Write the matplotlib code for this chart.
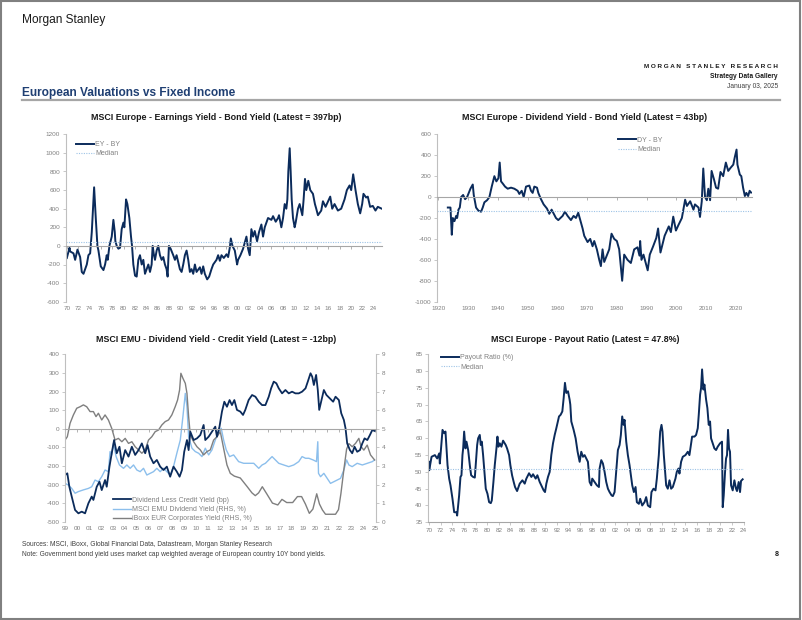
import numpy as np
import matplotlib
matplotlib.use('Agg')
import matplotlib.pyplot as plt
from matplotlib.patches import Rectangle
from matplotlib.lines import Line2D

plt.rcParams['font.family'] = ['Liberation Sans', 'DejaVu Sans']

NAVY = '#0b2b5b'
LIGHT = '#8cbfec'
GREY = '#7f7f7f'
MED = '#9dc3e6'
AXIS = '#bfbfbf'
TXT = '#808080'

# --- MSCI Europe earnings yield less bond yield (bp)
ey_years = [1970.0, 1970.47, 1970.59, 1971.17, 1971.46, 1971.87, 1972.34, 1972.63, 1972.93, 1973.51,
            1973.80, 1974.10, 1974.39, 1974.80, 1975.09, 1975.38, 1975.56, 1975.97, 1976.44, 1976.73,
            1977.02, 1977.20, 1977.49, 1977.90, 1978.19, 1978.43, 1978.54, 1978.78, 1979.07, 1979.36,
            1979.65, 1979.95, 1980.12, 1980.42, 1980.65, 1981.00, 1981.29, 1981.47, 1981.70, 1982.00,
            1982.29, 1982.58, 1982.87, 1983.17, 1983.46, 1983.75, 1984.04, 1984.34, 1984.63, 1984.92,
            1985.10, 1985.33, 1985.51, 1985.80, 1986.09, 1986.38, 1986.68, 1986.97, 1987.26, 1987.55,
            1987.73, 1987.96, 1988.26, 1988.72, 1989.02, 1989.31, 1989.89, 1990.19, 1990.48, 1990.77,
            1991.07, 1991.36, 1991.65, 1991.94, 1992.24, 1992.53, 1992.82, 1993.41, 1993.70, 1993.99,
            1994.28, 1994.69, 1995.04, 1995.45, 1995.75, 1996.33, 1996.62, 1996.92, 1997.21, 1997.62,
            1998.09, 1998.38, 1998.67, 1998.85, 1999.14, 1999.55, 1999.96, 2000.13, 2000.54, 2001.01,
            2001.60, 2001.89, 2002.18, 2002.47, 2002.77, 2003.06, 2003.47, 2003.82, 2004.23, 2004.52,
            2004.82, 2005.40, 2005.99, 2006.28, 2006.75, 2007.16, 2007.33, 2007.74, 2008.04, 2008.33,
            2008.62, 2008.80, 2008.97, 2009.21, 2009.38, 2009.56, 2009.79, 2010.08, 2010.26, 2010.67,
            2010.96, 2011.43, 2011.66, 2011.90, 2012.13, 2012.48, 2012.83, 2013.30, 2013.65, 2013.88,
            2014.18, 2014.76, 2015.06, 2015.52, 2016.34, 2016.69, 2017.10, 2017.69, 2018.27, 2018.86,
            2019.27, 2019.74, 2020.03, 2020.38, 2020.79, 2021.20, 2021.61, 2021.96, 2022.19, 2022.66,
            2022.95, 2023.36, 2023.83, 2024.30, 2024.71, 2025.41]
ey_values = [-130, -20, -60, -80, -150, -40, -120, -280, -300, -200,
             -100, -80, 150, 630, 300, 0, -50, -220, -260, -200,
             -100, -150, 0, 100, 280, 150, 50, 0, -30, -20,
             180, 250, 200, 500, 450, 300, 100, 0, -200, -320,
             -330, -150, -100, -200, -150, -300, -250, -200, -280, -200,
             0, -100, -150, -50, 0, -100, -150, -120, -200, -250,
             -330, 0, -30, -100, -150, -100, -250, -280, -200, -100,
             -50, -150, -280, -250, -300, -200, -280, -230, -300, -220,
             -300, -360, -330, -250, -200, -150, -100, -160, -100, -130,
             -90, -120, -20, 80, 0, -50, -200, -150, -100, -30,
             100, -30, -100, 180, 100, 160, 50, 150, 230, 100,
             200, 300, 280, 320, 260, 300, 330, 200, 300, 450,
             400, 500, 800, 1050, 800, 500, 300, 200, 250, 400,
             450, 330, 500, 720, 600, 700, 600, 560, 450, 400,
             330, 380, 480, 420, 530, 400, 450, 380, 400, 500,
             600, 650, 600, 770, 600, 450, 350, 450, 560, 520,
             530, 420, 430, 380, 420, 400]
ey_median = 40

# --- MSCI Europe dividend yield less bond yield (bp)
dy_years = [1923.14, 1924.03, 1924.48, 1924.82, 1925.38, 1925.94, 1926.27, 1926.72, 1927.17, 1927.61,
            1928.29, 1928.96, 1929.63, 1930.75, 1931.53, 1931.87, 1932.65, 1933.44, 1934.33, 1934.89,
            1935.45, 1936.35, 1937.13, 1937.92, 1938.81, 1939.48, 1940.16, 1940.60, 1941.05, 1941.61,
            1942.40, 1943.29, 1944.41, 1945.53, 1946.65, 1947.21, 1948.00, 1948.67, 1949.45, 1950.57,
            1951.13, 1951.69, 1952.25, 1953.15, 1953.59, 1954.49, 1955.39, 1956.51, 1957.29, 1958.07,
            1959.53, 1960.31, 1961.77, 1962.55, 1963.45, 1964.57, 1965.46, 1966.25, 1967.03, 1967.70,
            1968.49, 1969.05, 1970.17, 1971.06, 1971.85, 1972.41, 1973.30, 1974.09, 1974.65, 1975.21,
            1975.77, 1976.33, 1977.45, 1978.23, 1979.13, 1980.02, 1980.81, 1981.81, 1982.49, 1983.61,
            1984.73, 1985.85, 1986.97, 1987.64, 1987.86, 1988.31, 1988.98, 1990.40, 1991.10, 1992.20,
            1993.30, 1993.90, 1994.70, 1996.10, 1997.50, 1998.20, 1999.00, 1999.90, 2000.70, 2001.90,
            2003.00, 2003.60, 2004.70, 2005.80, 2006.30, 2007.50, 2008.00, 2008.60, 2009.10, 2009.70,
            2010.30, 2010.80, 2011.40, 2011.90, 2012.70, 2013.40, 2014.10, 2014.90, 2015.80, 2016.70,
            2017.50, 2018.30, 2019.20, 2019.70, 2020.30, 2020.60, 2021.40, 2021.90, 2022.50, 2023.10,
            2023.60, 2024.20, 2024.70, 2025.20]
dy_values = [-100, -100, -360, -200, -230, -180, -200, -120, -100, 0,
             20, -20, 0, 80, 120, 20, -100, -130, -140, -100,
             -50, -30, 0, 100, 200, 150, 180, 330, 150, 130,
             100, 80, 90, 80, 60, 30, 60, 0, 100, 110,
             60, 40, 100, 90, 40, -20, -70, -110, -160, -120,
             -200, -220, -180, -140, -180, -220, -180, -200, -150, -220,
             -300, -370, -430, -400, -470, -420, -500, -600, -660, -500,
             -620, -580, -500, -350, -400, -420, -500, -800, -550, -600,
             -630, -500, -480, -560, -420, -600, -550, -700, -550, -473,
             -390, -300, -530, -370, -280, -335, -187, -320, -270, -200,
             -25, -85, -40, -120, -70, -100, -190, -40, 273, 0,
             -30, 80, -30, 250, 170, 90, 80, 240, 200, 330,
             250, 280, 310, 380, 454, 310, 215, 200, 90, 10,
             40, 10, 60, 43]
dy_median = -135

# --- MSCI EMU dividend yield less credit yield (bp), and RHS yields (%)
dc_years = [1998.98, 1999.17, 1999.34, 1999.54, 1999.82, 2000.10, 2000.38, 2000.66, 2000.94, 2001.22,
            2001.36, 2001.64, 2001.87, 2002.06, 2002.34, 2002.48, 2002.71, 2002.90, 2003.10, 2003.32,
            2003.55, 2003.75, 2004.03, 2004.31, 2004.59, 2004.87, 2005.15, 2005.43, 2005.71, 2005.91,
            2006.13, 2006.41, 2006.69, 2006.97, 2007.25, 2007.53, 2007.81, 2008.09, 2008.37, 2008.60,
            2008.80, 2008.99, 2009.22, 2009.36, 2009.50, 2009.78, 2010.06, 2010.34, 2010.62, 2010.76,
            2011.04, 2011.32, 2011.60, 2011.74, 2011.95, 2012.16, 2012.36, 2012.58, 2012.80, 2013.00,
            2013.20, 2013.42, 2013.70, 2013.93, 2014.12, 2014.40, 2014.69, 2014.97, 2015.25, 2015.53,
            2015.81, 2016.09, 2016.29, 2016.51, 2016.73, 2016.93, 2017.21, 2017.49, 2017.77, 2018.05,
            2018.33, 2018.61, 2018.89, 2019.18, 2019.37, 2019.60, 2019.74, 2019.88, 2020.07, 2020.21,
            2020.33, 2020.49, 2020.72, 2020.94, 2021.22, 2021.50, 2021.70, 2021.98, 2022.18, 2022.40,
            2022.54, 2022.68, 2022.91, 2023.10, 2023.30, 2023.52, 2023.75, 2023.95, 2024.14, 2024.37,
            2024.59, 2024.79, 2024.98]
dc_values = [-249, -240, -312, -365, -437, -455, -446, -455, -401, -365,
             -383, -312, -285, -330, -276, -312, -204, -132, -61, -132,
             -97, -186, -115, -150, -97, -141, -115, -79, -132, -88,
             -150, -186, -168, -204, -222, -204, -258, -204, -231, -258,
             -222, -124, -61, -115, -16, -61, -52, -34, 20, -61,
             -43, -16, 11, -43, 10, 92, 145, 118, 154, 127,
             154, 101, 92, 74, 101, 154, 181, 172, 145, 127,
             127, 172, 217, 253, 244, 217, 190, 208, 190, 199,
             190, 190, 199, 217, 253, 298, 280, 235, 289, 208,
             101, 145, 208, 181, 163, 145, 172, 154, 83, 47,
             2, -79, -115, -132, -97, -124, -115, -79, -52, -61,
             -34, -7, -12]

emu_dy_years = [1998.98, 1999.26, 1999.54, 1999.82, 2000.10, 2000.52, 2000.94, 2001.22, 2001.50, 2001.78,
                2002.06, 2002.34, 2002.62, 2002.76, 2002.90, 2003.04, 2003.27, 2003.55, 2003.89, 2004.17,
                2004.45, 2004.73, 2005.01, 2005.29, 2005.57, 2005.85, 2006.13, 2006.41, 2006.69, 2006.97,
                2007.25, 2007.53, 2007.81, 2008.09, 2008.37, 2008.66, 2008.88, 2009.08, 2009.22, 2009.36,
                2009.64, 2009.92, 2010.20, 2010.48, 2010.76, 2011.04, 2011.32, 2011.60, 2011.88, 2012.10,
                2012.30, 2012.52, 2012.80, 2013.14, 2013.56, 2013.98, 2014.40, 2014.83, 2015.25, 2015.53,
                2015.81, 2016.09, 2016.37, 2016.65, 2016.93, 2017.35, 2017.77, 2018.19, 2018.61, 2018.89,
                2019.18, 2019.46, 2019.82, 2020.10, 2020.21, 2020.27, 2020.44, 2020.72, 2021.00, 2021.28,
                2021.56, 2021.84, 2022.12, 2022.40, 2022.63, 2022.82, 2023.10, 2023.52, 2023.95, 2024.37,
                2024.79, 2024.98]
emu_dy_values = [2.06, 1.97, 1.79, 1.53, 1.62, 1.71, 1.79, 1.88, 2.24, 2.15,
                 2.42, 2.78, 2.69, 3.77, 3.59, 4.21, 3.50, 3.05, 2.87, 3.05,
                 2.87, 3.05, 2.78, 2.69, 2.87, 2.51, 2.60, 2.69, 2.87, 2.69,
                 2.87, 2.69, 2.51, 2.96, 3.68, 4.39, 5.65, 6.90, 6.18, 4.57,
                 3.95, 3.77, 3.68, 3.50, 3.95, 3.59, 3.86, 4.39, 4.84, 5.02,
                 4.39, 3.86, 3.50, 3.59, 3.23, 3.14, 3.14, 3.14, 2.87, 3.05,
                 3.14, 3.32, 3.50, 3.32, 3.14, 3.05, 2.96, 3.05, 3.23, 3.50,
                 3.41, 3.41, 3.32, 3.23, 4.30, 2.60, 2.42, 2.60, 2.33, 2.06,
                 2.15, 2.24, 2.33, 2.78, 3.32, 3.05, 2.96, 3.14, 3.05, 3.14,
                 3.23, 3.32]

iboxx_years = [1998.98, 1999.17, 1999.40, 1999.68, 1999.96, 2000.24, 2000.52, 2000.80, 2001.08, 2001.36,
               2001.58, 2001.78, 2002.06, 2002.34, 2002.62, 2002.90, 2003.18, 2003.46, 2003.75, 2004.03,
               2004.31, 2004.59, 2004.87, 2005.15, 2005.43, 2005.71, 2005.99, 2006.27, 2006.55, 2006.83,
               2007.11, 2007.39, 2007.67, 2007.95, 2008.23, 2008.43, 2008.60, 2008.71, 2008.88, 2009.08,
               2009.22, 2009.36, 2009.50, 2009.78, 2010.06, 2010.34, 2010.62, 2010.90, 2011.18, 2011.46,
               2011.74, 2012.02, 2012.30, 2012.58, 2012.86, 2013.20, 2013.70, 2014.26, 2014.68, 2014.96,
               2015.24, 2015.55, 2015.94, 2016.40, 2016.85, 2017.20, 2017.60, 2018.10, 2018.50, 2018.85,
               2019.17, 2019.50, 2019.80, 2020.12, 2020.35, 2020.60, 2020.86, 2021.30, 2021.70, 2021.95,
               2022.15, 2022.40, 2022.63, 2022.82, 2023.10, 2023.38, 2023.66, 2023.85, 2024.08, 2024.36,
               2024.64, 2024.98]
iboxx_values = [4.39, 4.57, 5.29, 5.74, 6.10, 6.18, 6.28, 6.18, 5.92, 5.92,
                5.65, 5.83, 5.47, 5.74, 5.47, 5.02, 4.39, 4.48, 4.30, 4.48,
                4.21, 4.30, 4.03, 3.86, 3.68, 3.86, 4.39, 4.57, 4.84, 4.93,
                5.20, 5.38, 5.47, 5.74, 6.18, 6.54, 7.08, 7.98, 7.71, 7.44,
                6.90, 5.65, 4.66, 4.30, 4.03, 3.86, 3.59, 3.77, 3.86, 4.39,
                4.57, 4.84, 3.94, 3.05, 2.60, 2.45, 2.35, 1.90, 1.55, 1.40,
                1.55, 1.88, 1.48, 1.00, 0.90, 1.20, 1.03, 1.03, 1.35, 1.35,
                0.95, 0.45, 0.68, 1.50, 0.95, 0.63, 0.40, 0.40, 0.40, 0.65,
                1.50, 2.80, 3.90, 4.20, 4.03, 4.21, 4.48, 4.03, 3.85, 4.12,
                3.59, 3.32]

# --- MSCI Europe payout ratio (%)
po_years = [1970.00, 1970.06, 1970.46, 1971.03, 1971.43, 1971.77, 1971.88, 1972.34, 1972.63, 1972.85,
            1973.20, 1973.48, 1973.71, 1974.05, 1974.34, 1974.74, 1974.85, 1975.19, 1975.42, 1975.59,
            1975.76, 1975.88, 1976.05, 1976.28, 1976.45, 1976.74, 1977.02, 1977.25, 1977.59, 1977.88,
            1978.16, 1978.28, 1978.45, 1978.73, 1978.90, 1979.08, 1979.30, 1979.53, 1979.76, 1980.05,
            1980.33, 1980.62, 1980.79, 1981.07, 1981.30, 1981.59, 1981.76, 1981.93, 1982.16, 1982.44,
            1982.73, 1983.18, 1983.41, 1983.76, 1983.98, 1984.27, 1984.55, 1984.78, 1985.13, 1985.58,
            1986.04, 1986.44, 1986.72, 1987.18, 1987.58, 1987.87, 1988.32, 1988.61, 1989.01, 1989.29,
            1989.69, 1989.92, 1990.15, 1990.43, 1990.72, 1991.00, 1991.29, 1991.58, 1991.86, 1992.32,
            1992.60, 1992.89, 1993.12, 1993.34, 1993.57, 1993.86, 1994.14, 1994.26, 1994.43, 1994.83,
            1995.17, 1995.51, 1995.86, 1996.14, 1996.43, 1996.71, 1997.00, 1997.28, 1997.57, 1997.85,
            1998.02, 1998.42, 1998.82, 1999.17, 1999.28, 1999.57, 1999.85, 2000.14, 2000.42, 2000.71,
            2000.99, 2001.34, 2001.56, 2001.85, 2002.13, 2002.42, 2002.71, 2002.93, 2003.16, 2003.39,
            2003.56, 2003.85, 2004.13, 2004.42, 2004.65, 2004.88, 2005.16, 2005.45, 2005.67, 2006.02,
            2006.24, 2006.59, 2006.99, 2007.27, 2007.56, 2007.96, 2008.18, 2008.53, 2008.87, 2009.10,
            2009.44, 2009.67, 2009.90, 2010.07, 2010.30, 2010.53, 2010.70, 2010.98, 2011.27, 2011.55,
            2011.84, 2012.29, 2012.52, 2012.81, 2012.98, 2013.26, 2013.55, 2014.01, 2014.41, 2014.69,
            2015.15, 2015.55, 2015.83, 2016.12, 2016.29, 2016.52, 2016.69, 2016.86, 2017.09, 2017.26,
            2017.55, 2017.77, 2018.00, 2018.23, 2018.40, 2018.69, 2018.97, 2019.26, 2019.54, 2019.94,
            2020.28, 2020.40, 2020.57, 2020.80, 2020.97, 2021.14, 2021.31, 2021.48, 2021.65, 2021.83,
            2022.11, 2022.40, 2022.68, 2022.85, 2023.14, 2023.37, 2023.54, 2023.82]
po_values = [53, 50.5, 54.5, 55, 54, 55.5, 52.5, 62.5, 61.5, 62,
             52, 48, 46, 42, 38, 38, 37, 43, 48.5, 49,
             55, 57, 62, 57, 59, 56.5, 52, 49, 48.5, 48.3,
             55, 58, 60, 61, 58, 59, 55, 50, 45, 43.5,
             41, 40.7, 41.5, 47, 52, 57, 60.5, 57.5, 58.5, 57.5,
             59.3, 58, 57, 55, 52, 49, 47, 45.5, 44.3, 46.5,
             47.5, 46.5, 48, 49.6, 48.5, 49.3, 48, 49, 47, 46,
             44.5, 44, 46.5, 48.5, 50, 55, 58.5, 61, 63, 66.5,
             67, 68, 72, 76.5, 73.5, 74, 71.5, 70, 65, 62.5,
             60, 56, 53, 56, 54.5, 55, 54, 53, 47, 46,
             48, 47, 46, 45.5, 51, 53.5, 52.5, 50, 47, 45,
             44, 43, 42.8, 44, 50, 56.5, 58, 61, 66.5, 64,
             65.5, 59, 55, 52, 49, 46, 44, 45.5, 41, 40.5,
             42, 40, 41, 42.5, 40, 39.5, 44, 45, 44.5, 48,
             55, 62, 64, 62, 55, 50, 46, 45, 47.5, 45,
             45.5, 48, 50, 51, 49.5, 53, 54.5, 55, 56, 55,
             60.5, 60.5, 61, 63, 67, 73, 75, 80.5, 74.5, 76,
             71.5, 69, 64, 65, 60, 58.5, 57, 56.5, 57.5, 58.5,
             59, 39.5, 43, 50, 54, 55, 62.5, 57, 56, 46,
             44.5, 47.5, 45, 44.3, 47, 44, 47.3, 47.8]
po_median = 51

W, H = 802, 620
fig = plt.figure(figsize=(W / 100, H / 100), dpi=100)


def box(x0, x1, ytop, ybot):
    return [x0 / W, 1 - ybot / H, (x1 - x0) / W, (ybot - ytop) / H]


def style(ax, yticks, xticks, xlabels, zero=None):
    for s in ['top', 'right']:
        ax.spines[s].set_visible(False)
    ax.spines['left'].set_color(AXIS)
    ax.spines['left'].set_linewidth(0.8)
    ax.spines['bottom'].set_color('#a6a6a6')
    ax.spines['bottom'].set_linewidth(0.8)
    ax.set_yticks(yticks)
    ax.set_yticklabels([f'{t:g}' for t in yticks])
    ax.tick_params(axis='y', length=2, width=0.6, color=AXIS, labelsize=4.6, labelcolor=TXT, pad=2)
    ax.set_xticks(xticks)
    if zero is None:
        ax.set_xticklabels(xlabels)
        ax.tick_params(axis='x', length=2, width=0.6, color=AXIS, labelsize=4.6, labelcolor=TXT, pad=2)
    else:
        ax.spines['bottom'].set_position(('data', zero))
        ax.tick_params(axis='x', length=2, width=0.6, color='#a6a6a6', labelbottom=False)
        sec = ax.secondary_xaxis('bottom')
        sec.set_xticks(xticks, xlabels)
        sec.spines['bottom'].set_visible(False)
        sec.tick_params(length=0, labelsize=4.6, labelcolor=TXT, pad=3)


def legend(ax, handles, labels, anchor):
    ax.legend(handles, labels, loc='upper left', bbox_to_anchor=anchor, frameon=False,
              fontsize=5, labelcolor=TXT, handlelength=2.6, handletextpad=0.15,
              labelspacing=0.35, borderaxespad=0, borderpad=0)


med_handle = Line2D([], [], color=MED, lw=0.8, ls=(0, (1, 1.2)))

# chart 1
ax1 = fig.add_axes(box(65.7, 382, 134.3, 301.7))
l1, = ax1.plot(ey_years, ey_values, color=NAVY, lw=1.4)
ax1.axhline(ey_median, color=MED, lw=0.8, ls=(0, (1, 1.2)))
ax1.set_xlim(1969.8, 2025.45)
ax1.set_ylim(-600, 1200)
yrs = list(range(1970, 2025, 2))
style(ax1, list(range(-600, 1201, 200)), yrs, [f'{y % 100:02d}' for y in yrs], zero=0)
legend(ax1, [l1, med_handle], ['EY - BY', 'Median'], (0.033, 0.96))

# chart 2
ax2 = fig.add_axes(box(437, 752, 134.3, 301.7))
l2, = ax2.plot(dy_years, dy_values, color=NAVY, lw=1.4)
ax2.axhline(dy_median, color=MED, lw=0.8, ls=(0, (1, 1.2)))
ax2.set_xlim(1919.5, 2025.5)
ax2.set_ylim(-1000, 600)
decs = list(range(1920, 2021, 10))
style(ax2, list(range(-1000, 601, 200)), decs, [str(d) for d in decs], zero=0)
legend(ax2, [l2, med_handle], ['DY - BY', 'Median'], (0.575, 0.985))

# chart 3
ax3 = fig.add_axes(box(65.3, 376, 354.3, 521.7))
ax3r = ax3.twinx()
ax3.set_zorder(ax3r.get_zorder() + 1)
ax3.patch.set_visible(False)
l3b, = ax3r.plot(emu_dy_years, emu_dy_values, color=LIGHT, lw=1.0)
l3c, = ax3r.plot(iboxx_years, iboxx_values, color=GREY, lw=1.0)
l3a, = ax3.plot(dc_years, dc_values, color=NAVY, lw=1.3)
ax3.set_xlim(1999.0, 2025.1)
ax3.set_ylim(-500, 400)
ax3r.set_ylim(0, 9)
yrs3 = list(range(1999, 2026))
style(ax3, list(range(-500, 401, 100)), yrs3, [f'{y % 100:02d}' for y in yrs3], zero=0)
for s in ['top', 'left', 'bottom']:
    ax3r.spines[s].set_visible(False)
ax3r.spines['right'].set_color(AXIS)
ax3r.spines['right'].set_linewidth(0.8)
ax3r.set_yticks(range(0, 10))
ax3r.tick_params(axis='y', length=2, width=0.6, color=AXIS, labelsize=4.6, labelcolor=TXT, pad=2)
legend(ax3, [l3a, l3b, l3c],
       ['Dividend Less Credit Yield (bp)', 'MSCI EMU Dividend Yield (RHS, %)',
        'iBoxx EUR Corporates Yield (RHS, %)'], (0.154, 0.15))

# chart 4
ax4 = fig.add_axes(box(428, 744, 354.3, 522.3))
l4, = ax4.plot(po_years, po_values, color=NAVY, lw=1.4)
ax4.axhline(po_median, color=MED, lw=0.8, ls=(0, (1, 1.2)))
ax4.set_xlim(1969.85, 2024.05)
ax4.set_ylim(35, 85)
style(ax4, list(range(35, 86, 5)), yrs, [f'{y % 100:02d}' for y in yrs])
legend(ax4, [l4, med_handle], ['Payout Ratio (%)', 'Median'], (0.041, 1.0))

# titles
titles = [('MSCI Europe - Earnings Yield - Bond Yield (Latest = 397bp)', 216, 118),
          ('MSCI Europe - Dividend Yield - Bond Yield (Latest = 43bp)', 585, 118),
          ('MSCI EMU - Dividend Yield - Credit Yield (Latest = -12bp)', 216, 339),
          ('MSCI Europe - Payout Ratio (Latest = 47.8%)', 585, 339)]
for t, x, y in titles:
    fig.text(x / W, 1 - y / H, t, ha='center', va='center', fontsize=6.4, fontweight='bold', color='#1a1a1a')

# page header / footer
fig.text(22 / W, 1 - 20 / H, 'Morgan Stanley', fontsize=8.6, color='#1a1a1a', va='center', ha='left')
fig.text(778 / W, 1 - 66 / H, ' '.join('MORGAN') + '   ' + ' '.join('STANLEY') + '   ' + ' '.join('RESEARCH'),
         fontsize=4.6, fontweight='bold', ha='right', va='center', color='#1a1a1a')
fig.text(778 / W, 1 - 76 / H, 'Strategy Data Gallery', fontsize=4.8, fontweight='bold', ha='right', va='center',
         color='#1a1a1a')
fig.text(778 / W, 1 - 86 / H, 'January 03, 2025', fontsize=4.8, ha='right', va='center', color='#404040')
fig.text(22 / W, 1 - 93 / H, 'European Valuations vs Fixed Income', fontsize=8.6, fontweight='bold',
         ha='left', va='center', color='#1f3f73')
fig.add_artist(Line2D([22 / W, 780 / W], [1 - 100 / H, 1 - 100 / H], color='#a6a6a6', lw=1.6))
fig.text(22 / W, 1 - 544 / H, 'Sources: MSCI, iBoxx, Global Financial Data, Datastream, Morgan Stanley Research',
         fontsize=4.8, ha='left', va='center', color='#404040')
fig.text(22 / W, 1 - 555 / H,
         'Note: Government bond yield uses market cap weighted average of European country 10Y bond yields.',
         fontsize=4.8, ha='left', va='center', color='#404040')
fig.text(777 / W, 1 - 555 / H, '8', fontsize=5, fontweight='bold', ha='center', va='center', color='#1a1a1a')
fig.add_artist(Rectangle((0.001, 0.002), 0.997, 0.997, transform=fig.transFigure, fill=False,
                         edgecolor='#808080', lw=1.5))

fig.savefig('out.png', dpi=100)
